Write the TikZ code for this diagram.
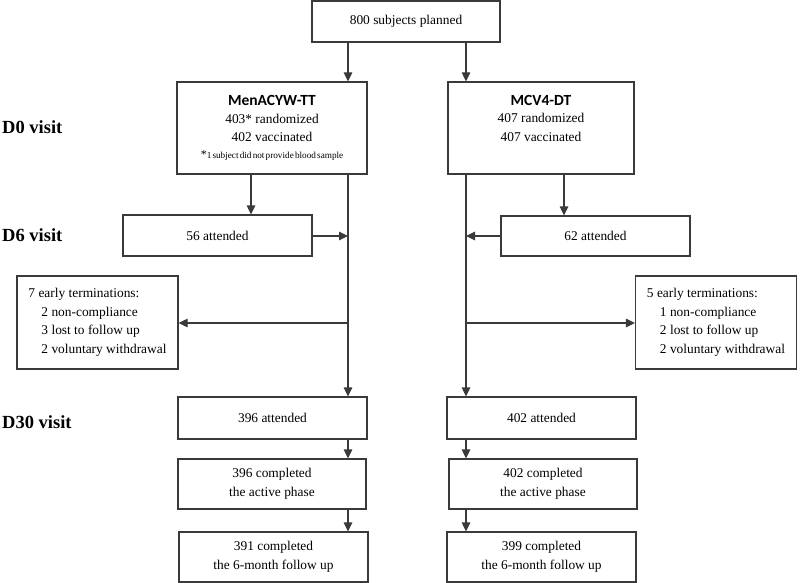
\documentclass[tikz,border=0pt]{standalone}
\usepackage{fontspec}
\setmainfont{Liberation Serif}
\newfontfamily\hfont{Carlito}
\usetikzlibrary{arrows.meta}
\definecolor{linec}{HTML}{3A3A3A}
\tikzset{
  x=1pt,y=-1pt,
  boxnode/.style={draw=linec,line width=1.2pt,inner sep=0pt,align=center,
    font=\rmfamily\fontsize{13.4}{18.5}\selectfont},
  termbox/.style={boxnode,minimum height=93pt,align=left},
  conn/.style={draw=linec,line width=1.2pt},
  arr/.style={conn,-{Triangle[length=9pt,width=8.5pt]}},
  visit/.style={anchor=west,inner sep=0pt,font=\rmfamily\fontsize{18.5}{20}\selectfont\bfseries}
}
\newcommand\headtxt[1]{{\hfont\bfseries\fontsize{15.5}{18}\selectfont #1}}
\begin{document}
\begin{tikzpicture}
\useasboundingbox (0,0) rectangle (800,583);
\fill[white] (0,0) rectangle (800,583);
% boxes
\node[boxnode,minimum width=188pt,minimum height=41pt] (top) at (406,21.5) {800 subjects planned};
\node[boxnode,minimum width=190pt,minimum height=92pt] (A) at (272,128)
 {\headtxt{MenACYW-TT}\\[-1pt]
  403* randomized\\402 vaccinated\\[-2pt]
  {\fontsize{12}{12}\selectfont *}{\fontsize{9.2}{10}\selectfont\spaceskip=1.2pt 1 subject did not provide blood sample}};
\node[boxnode,minimum width=186pt,minimum height=92pt] (B) at (541,128)
 {\headtxt{MCV4-DT}\\[-1pt]
  407 randomized\\407 vaccinated\\[-2pt]{\fontsize{9.2}{10}\selectfont\strut}};
\node[boxnode,minimum width=189pt,minimum height=41pt] (A6) at (217.5,235.5) {56 attended};
\node[boxnode,minimum width=189pt,minimum height=40pt] (B6) at (595.5,236) {62 attended};
\node[termbox,minimum width=161pt] (AT) at (97.5,322.5)
 {7 early terminations:\\\hspace*{13pt}2 non-compliance\\\hspace*{13pt}3 lost to follow up\\\hspace*{13pt}2 voluntary withdrawal};
\node[termbox,minimum width=161pt] (BT) at (716,322.5)
 {5 early terminations:\\\hspace*{13pt}1 non-compliance\\\hspace*{13pt}2 lost to follow up\\\hspace*{13pt}2 voluntary withdrawal};
\node[boxnode,minimum width=189pt,minimum height=42pt] (A30) at (272.5,418) {396 attended};
\node[boxnode,minimum width=189pt,minimum height=42pt] (B30) at (541.5,418) {402 attended};
\node[boxnode,minimum width=188pt,minimum height=50pt] (A2) at (272,484) {396 completed\\the active phase};
\node[boxnode,minimum width=188pt,minimum height=50pt] (B2) at (543,484) {402 completed\\the active phase};
\node[boxnode,minimum width=189pt,minimum height=50pt] (A3) at (273.5,557) {391 completed\\the 6-month follow up};
\node[boxnode,minimum width=189pt,minimum height=50pt] (B3) at (541.5,557) {399 completed\\the 6-month follow up};
% visit labels
\node[visit] (d0) at (2,127) {D0 visit};
\node[visit] (d6) at (2,235) {D6 visit};
\node[visit] (d30) at (2,422) {D30 visit};
% junction coordinates
\coordinate (la) at (348,0);
\coordinate (lb) at (466,0);
\coordinate (ja6) at (251,0);
\coordinate (jb6) at (564,0);
\coordinate (yt) at (0,323);
\coordinate (ya) at (0,236);
% connectors
\draw[arr] (top.south -| la) -- (A.north -| la);
\draw[arr] (top.south -| lb) -- (B.north -| lb);
\draw[arr] (A.south -| ja6) -- (A6.north -| ja6);
\draw[arr] (B.south -| jb6) -- (B6.north -| jb6);
\draw[arr] (A.south -| la) -- (A30.north -| la);
\draw[arr] (B.south -| lb) -- (B30.north -| lb);
\draw[arr] (ya -| A6.east) -- (ya -| la);
\draw[arr] (ya -| B6.west) -- (ya -| lb);
\draw[arr] (yt -| la) -- (yt -| AT.east);
\draw[arr] (yt -| lb) -- (yt -| BT.west);
\draw[arr] (A30.south -| la) -- (A2.north -| la);
\draw[arr] (A2.south -| la) -- (A3.north -| la);
\draw[arr] (B30.south -| lb) -- (B2.north -| lb);
\draw[arr] (B2.south -| lb) -- (B3.north -| lb);
\end{tikzpicture}
\end{document}
